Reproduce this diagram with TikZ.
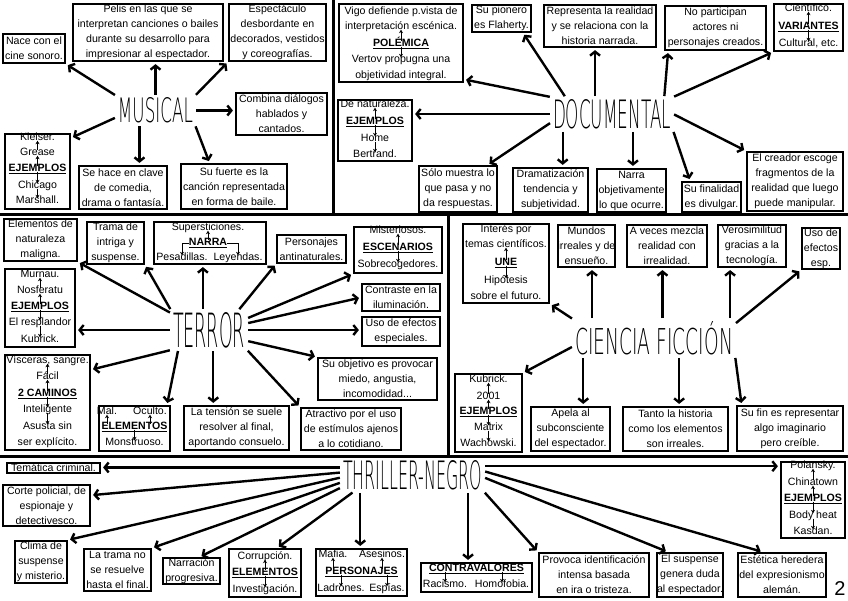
\documentclass[tikz,border=0pt]{standalone}
\usepackage{fontspec}
\newfontfamily\cajafont{Liberation Sans}
\newfontfamily\temafont{DejaVu Sans ExtraLight}
\usetikzlibrary{arrows.meta}
\newcommand\clave[1]{\underline{\textbf{#1}}}

\begin{document}
\begin{tikzpicture}[x=1pt, y=-1pt,
  every node/.style={font=\cajafont\fontsize{10.6}{15}\selectfont},
  caja/.style 2 args={draw, line width=2.2pt, align=center, inner sep=0pt, minimum width=#1pt, minimum height=#2pt},
  linea/.style={inner sep=0pt, text height=5pt, text depth=0pt},
  tema/.style={inner sep=2pt, font=\temafont},
  flecha/.style={line width=2.4pt, -{Straight Barb[length=4pt,width=10pt]}, shorten >=2pt, shorten <=1pt},
  mini/.style={line width=1pt, -{Stealth[length=3.5pt,width=4pt]}},
  marco/.style={line width=3pt}]

\useasboundingbox (0,0) rectangle (848,600);

\draw[marco] (0,214) -- (848,214);
\draw[marco] (333,0) -- (333,214);
\draw[marco] (0,456) -- (848,456);
\draw[marco] (448,214) -- (448,456);

% musical
\node[tema] (musical) at (155.5,110.5) {\resizebox{75pt}{25pt}{MUSICAL}};
\node[caja={62}{29}] (m1) at (34,48.5) {Nace con el\\cine sonoro.};
\node[caja={150}{57}] (m2) at (148,32.5) {Pelis en las que se\\interpretan canciones o bailes\\durante su desarrollo para\\impresionar al espectador.};
\node[caja={97}{57}] (m3) at (277.5,32.5) {Espectáculo\\desbordante en\\decorados, vestidos\\y coreografías.};
\node[caja={91}{42}] (m4) at (281.5,114) {Combina diálogos\\hablados y\\cantados.};
\node[caja={65}{75}] (m5) at (37.5,171.5) {};
\node[linea] (m5a) at (37.5,138) {Kleiser.};
\node[linea] (m5b) at (37.5,153) {Grease};
\node[linea] (m5k) at (37.5,169) {\clave{EJEMPLOS}};
\node[linea] (m5c) at (37.5,186) {Chicago};
\node[linea] (m5d) at (37.5,201) {Marshall.};
\node[caja={88}{43}] (m6) at (123,187.5) {Se hace en clave\\de comedia,\\drama o fantasía.};
\node[caja={106}{45}] (m7) at (234,186.5) {Su fuerte es la\\canción representada\\en forma de baile.};

\draw[flecha] (musical.north west) -- (m1.south east);
\draw[flecha] (musical.north) -- (musical.north |- m2.south);
\draw[flecha] (musical.north east) -- (m3.south west);
\draw[flecha] (musical.east) -- (musical.east -| m4.west);
\draw[flecha] (musical.190) -- (m5.45);
\draw[flecha] (musical.223) -- (musical.223 |- m6.north);
\draw[flecha] (musical.south east) -- (m7.136);
\draw[mini] (m5b) -- (m5a);
\draw[mini] (m5k) -- (m5b);
\draw[mini] (m5k) -- (m5c);
\draw[mini] (m5c) -- (m5d);

% documental
\node[tema] (documental) at (612,114) {\resizebox{118pt}{29pt}{DOCUMENTAL}};
\node[caja={124}{78}] (d1) at (401,43) {};
\node[linea] (d1a) at (401,12) {Vigo defiende p.vista de};
\node[linea] (d1b) at (401,27) {interpretación escénica.};
\node[linea] (d1k) at (401,44) {\clave{POLÉMICA}};
\node[linea] (d1c) at (401,60) {Vertov propugna una};
\node[linea] (d1d) at (401,76) {objetividad integral.};
\node[caja={59}{27}] (d2) at (501.5,18.5) {Su pionero\\es Flaherty.};
\node[caja={112}{42}] (d3) at (600,26) {Representa la realidad\\y se relaciona con la\\historia narrada.};
\node[caja={101}{44}] (d4) at (715.5,28) {No participan\\actores ni\\personajes creados.};
\node[caja={69}{47}] (d5) at (808.5,27.5) {};
\node[linea] (d5a) at (808.5,9) {Científico.};
\node[linea] (d5k) at (808.5,27) {\clave{VARIANTES}};
\node[linea] (d5b) at (808.5,44) {Cultural, etc.};
\node[caja={74}{61}] (d6) at (375,130.5) {};
\node[linea] (d6a) at (375,105) {De naturaleza.};
\node[linea] (d6k) at (375,122) {\clave{EJEMPLOS}};
\node[linea] (d6b) at (375,139) {Home};
\node[linea] (d6c) at (375,155) {Bertrand.};
\node[caja={78}{46}] (d7) at (458,189) {Sólo muestra lo\\que pasa y no\\da respuestas.};
\node[caja={75}{44}] (d8) at (550.5,190) {Dramatización\\tendencia y\\subjetividad.};
\node[caja={69}{43}] (d9) at (631.5,190.5) {Narra\\objetivamente\\lo que ocurre.};
\node[caja={59}{30}] (d10) at (711.5,197) {Su finalidad\\es divulgar.};
\node[caja={96}{59}] (d11) at (795,181.5) {El creador escoge\\fragmentos de la\\realidad que luego\\puede manipular.};

\draw[flecha] (documental.north west) -- (d1.-30);
\draw[flecha] (documental.160) -- (d2.-34);
\draw[flecha] (documental.135) -- (documental.135 |- d3.south);
\draw[flecha] (documental.18) -- (d4.206);
\draw[flecha] (documental.north east) -- (d5.south west);
\draw[flecha] (documental.west) -- (documental.west -| d6.east);
\draw[flecha] (documental.188) -- (d7.39);
\draw[flecha] (documental.199) -- (documental.199 |- d8.north);
\draw[flecha] (documental.-39) -- (documental.-39 |- d9.north);
\draw[flecha] (documental.south east) -- (d10.143);
\draw[flecha] (documental.east) -- (d11.north west);
\draw[mini] (d1k) -- (d1b);
\draw[mini] (d1k) -- (d1c);
\draw[mini] (d5k) -- (d5a);
\draw[mini] (d5k) -- (d5b);
\draw[mini] (d6k) -- (d6a);
\draw[mini] (d6k) -- (d6b);
\draw[mini] (d6b) -- (d6c);

% terror
\node[tema] (terror) at (209,330) {\resizebox{72pt}{35pt}{TERROR}};
\node[caja={73}{42}] (t1) at (40.5,240) {Elementos de\\naturaleza\\maligna.};
\node[caja={57}{42}] (t2) at (115.5,243) {Trama de\\intriga y\\suspense.};
\node[caja={112}{42}] (t3) at (210,243) {};
\node[linea] (t3a) at (208,228) {Supersticiones.};
\node[linea] (t3k) at (208,243) {\clave{NARRA}};
\node[linea] (t3b) at (182,258) {Pesadillas.};
\node[linea] (t3c) at (238,258) {Leyendas.};
\node[caja={69}{28}] (t4) at (311.5,249) {Personajes\\antinaturales.};
\node[caja={88}{46}] (t5) at (398,250) {};
\node[linea] (t5a) at (398,231) {Misteriosos.};
\node[linea] (t5k) at (398,248) {\clave{ESCENARIOS}};
\node[linea] (t5b) at (398,265) {Sobrecogedores.};
\node[caja={78}{27}] (t6) at (401,297.5) {Contraste en la\\iluminación.};
\node[caja={78}{29}] (t7) at (401,331.5) {Uso de efectos\\especiales.};
\node[caja={119}{42}] (t8) at (377.5,379) {Su objetivo es provocar\\miedo, angustia,\\incomodidad...};
\node[caja={100}{42}] (t9) at (351,429) {Atractivo por el uso\\de estímulos ajenos\\a lo cotidiano.};
\node[caja={105}{44}] (t10) at (236.5,428) {La tensión se suele\\resolver al final,\\aportando consuelo.};
\node[caja={71}{45}] (t11) at (134.5,428.5) {};
\node[linea] (t11a) at (107,412) {Mal.};
\node[linea] (t11b) at (150,412) {Oculto.};
\node[linea] (t11k) at (134.5,427) {\clave{ELEMENTOS}};
\node[linea] (t11c) at (134.5,443) {Monstruoso.};
\node[caja={85}{95}] (t12) at (47.5,402.5) {};
\node[linea] (t12a) at (47.5,361) {Vísceras, sangre.};
\node[linea] (t12b) at (47.5,377) {Fácil};
\node[linea] (t12k) at (47.5,394) {\clave{2 CAMINOS}};
\node[linea] (t12c) at (47.5,410) {Inteligente};
\node[linea] (t12d) at (47.5,427) {Asusta sin};
\node[linea] (t12e) at (47.5,443) {ser explícito.};
\node[caja={70}{78}] (t13) at (40,308) {};
\node[linea] (t13a) at (40,275) {Murnau.};
\node[linea] (t13b) at (40,291) {Nosferatu};
\node[linea] (t13k) at (40,307) {\clave{EJEMPLOS}};
\node[linea] (t13c) at (40,323) {El resplandor};
\node[linea] (t13d) at (40,340) {Kubrick.};

\draw[flecha] (terror.156) -- (t1.south east);
\draw[flecha] (terror.north west) -- (t2.south east);
\draw[flecha] (terror.107) -- (terror.107 |- t3.south);
\draw[flecha] (terror.34) -- (t4.south west);
\draw[flecha] (terror.17) -- (t5.south west);
\draw[flecha] (terror.10) -- (t6.west);
\draw[flecha] (terror.east) -- (terror.east -| t7.west);
\draw[flecha] (terror.-16) -- (t8.north west);
\draw[flecha] (terror.south east) -- (t9.north west);
\draw[flecha] (terror.-78) -- (terror.-78 |- t10.north);
\draw[flecha] (terror.213) -- (t11.36);
\draw[flecha] (terror.south west) -- (t12.37);
\draw[flecha] (terror.west) -- (terror.west -| t13.east);
\draw[mini] (t3k) -- (t3a);
\draw[mini] (t3k.west) -| (t3b.north);
\draw[mini] (t3k.east) -| (t3c.north);
\draw[mini] (t5k) -- (t5a);
\draw[mini] (t5k) -- (t5b);
\draw[mini] (t11k.north -| t11a) -- (t11a);
\draw[mini] (t11k.north -| t11b) -- (t11b);
\draw[mini] (t11k) -- (t11c);
\draw[mini] (t12b) -- (t12a);
\draw[mini] (t12k) -- (t12b);
\draw[mini] (t12k) -- (t12c);
\draw[mini] (t12c) -- (t12d);
\draw[mini] (t13b) -- (t13a);
\draw[mini] (t13k) -- (t13b);
\draw[mini] (t13k) -- (t13c);
\draw[mini] (t13c) -- (t13d);

% ciencia ficcion
\node[tema] (ciencia) at (654,338) {\resizebox{158pt}{33pt}{CIENCIA FICCIÓN}};
\node[caja={86}{79}] (c1) at (506,263.5) {};
\node[linea] (c1a) at (506,230) {Interés por};
\node[linea] (c1b) at (506,245) {temas científicos.};
\node[linea] (c1k) at (506,263) {\clave{UNE}};
\node[linea] (c1c) at (506,281) {Hipótesis};
\node[linea] (c1d) at (506,297) {sobre el futuro.};
\node[caja={57}{42}] (c2) at (586.5,246) {Mundos\\irreales y de\\ensueño.};
\node[caja={80}{42}] (c3) at (667,246) {A veces mezcla\\realidad con\\irrealidad.};
\node[caja={68}{42}] (c4) at (752,246) {Verosimilitud\\gracias a la\\tecnología.};
\node[caja={38}{41}] (c5) at (821,248.5) {Uso de\\efectos\\esp.};
\node[caja={67}{78}] (c6) at (488.5,413) {};
\node[linea] (c6a) at (488.5,380) {Kubrick.};
\node[linea] (c6b) at (488.5,397) {2001};
\node[linea] (c6k) at (488.5,412) {\clave{EJEMPLOS}};
\node[linea] (c6c) at (488.5,428) {Matrix};
\node[linea] (c6d) at (488.5,444) {Wachowski.};
\node[caja={79}{44}] (c7) at (570.5,429) {Apela al\\subconsciente\\del espectador.};
\node[caja={105}{44}] (c8) at (675.5,429) {Tanto la historia\\como los elementos\\son irreales.};
\node[caja={106}{45}] (c9) at (790,428.5) {Su fin es representar\\algo imaginario\\pero creíble.};

\draw[flecha] (ciencia.north west) -- (c1.south east);
\draw[flecha] (ciencia.163) -- (ciencia.163 |- c2.south);
\draw[flecha] (ciencia.66) -- (ciencia.66 |- c3.south);
\draw[flecha] (ciencia.14) -- (ciencia.14 |- c4.south);
\draw[flecha] (ciencia.10) -- (c5.south west);
\draw[flecha] (ciencia.186) -- (c6.north east);
\draw[flecha] (ciencia.195) -- (ciencia.195 |- c7.north);
\draw[flecha] (ciencia.-37) -- (ciencia.-37 |- c8.north);
\draw[flecha] (ciencia.south east) -- (c9.154);
\draw[mini] (c1k) -- (c1b);
\draw[mini] (c1k) -- (c1c);
\draw[mini] (c6b) -- (c6a);
\draw[mini] (c6k) -- (c6b);
\draw[mini] (c6k) -- (c6c);
\draw[mini] (c6c) -- (c6d);

% thriller
\node[tema] (thriller) at (412.5,475) {\resizebox{139pt}{29pt}{THRILLER-NEGRO}};
\node[caja={93}{10}] (n1) at (53.5,468) {Temática criminal.};
\node[caja={87}{41}] (n2) at (46.5,505.5) {Corte policial, de\\espionaje y\\detectivesco.};
\node[caja={52}{42}] (n3) at (41,562) {Clima de\\suspense\\y misterio.};
\node[caja={67}{42}] (n4) at (117.5,570) {La trama no\\se resuelve\\hasta el final.};
\node[caja={57}{26}] (n5) at (191.5,571) {Narración\\progresiva.};
\node[caja={72}{48}] (n6) at (265,573) {};
\node[linea] (n6a) at (265,557) {Corrupción.};
\node[linea] (n6k) at (265,573) {\clave{ELEMENTOS}};
\node[linea] (n6b) at (265,590) {Investigación.};
\node[caja={91}{47}] (n7) at (361.5,572.5) {};
\node[linea] (n7a) at (333,555) {Mafia.};
\node[linea] (n7b) at (382,555) {Asesinos.};
\node[linea] (n7k) at (361.5,572) {\clave{PERSONAJES}};
\node[linea] (n7c) at (341,589) {Ladrones.};
\node[linea] (n7d) at (387,589) {Espías.};
\node[caja={111}{29}] (n8) at (476.5,577.5) {};
\node[linea] (n8k) at (476.5,569) {\clave{CONTRAVALORES}};
\node[linea] (n8a) at (445,585) {Racismo.};
\node[linea] (n8b) at (502,585) {Homofobia.};
\node[caja={110}{44}] (n9) at (594,575) {Provoca identificación\\intensa basada\\en ira o tristeza.};
\node[caja={64}{44}] (n10) at (690,575) {El suspense\\genera duda\\al espectador.};
\node[caja={88}{44}] (n11) at (782,575) {Estética heredera\\del expresionismo\\alemán.};
\node[caja={64}{76}] (n12) at (813,500) {};
\node[linea] (n12a) at (813,466) {Polansky.};
\node[linea] (n12b) at (813,483) {Chinatown};
\node[linea] (n12k) at (813,499) {\clave{EJEMPLOS}};
\node[linea] (n12c) at (813,516) {Body heat};
\node[linea] (n12d) at (813,532) {Kasdan.};
\node (pagina) at (840,589) {\fontsize{20}{20}\selectfont 2};

\draw[flecha] (thriller.174) -- (thriller.174 -| n1.east);
\draw[flecha] (thriller.178) -- (n2.13);
\draw[flecha] (thriller.182) -- (n3.north east);
\draw[flecha] (thriller.186) -- (n4.north east);
\draw[flecha] (thriller.190) -- (n5.60);
\draw[flecha] (thriller.196) -- (n6.64);
\draw[flecha] (thriller.198) -- (thriller.198 |- n7.north);
\draw[flecha] (thriller.-17) -- (thriller.-17 |- n8.north);
\draw[flecha] (thriller.south east) -- (n9.north west);
\draw[flecha] (thriller.-2) -- (n10.134);
\draw[flecha] (thriller.3) -- (n11.130);
\draw[flecha] (thriller.7) -- (thriller.7 -| n12.west);
\draw[mini] (n6k) -- (n6a);
\draw[mini] (n6k) -- (n6b);
\draw[mini] (n7k.north -| n7a) -- (n7a);
\draw[mini] (n7k.north -| n7b) -- (n7b);
\draw[mini] (n7k.south -| n7c) -- (n7c);
\draw[mini] (n7k.south -| n7d) -- (n7d);
\draw[mini] (n8k.south -| n8a) -- (n8a);
\draw[mini] (n8k.south -| n8b) -- (n8b);
\draw[mini] (n12b) -- (n12a);
\draw[mini] (n12k) -- (n12b);
\draw[mini] (n12k) -- (n12c);
\draw[mini] (n12c) -- (n12d);

\end{tikzpicture}
\end{document}
